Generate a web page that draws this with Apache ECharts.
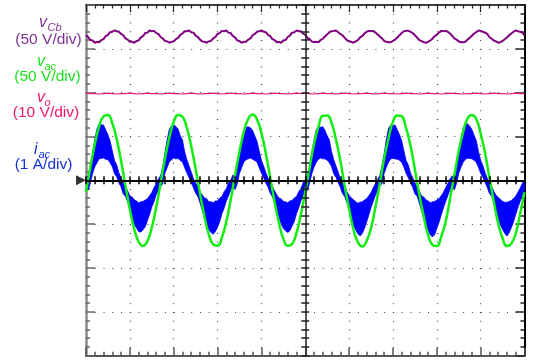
<!DOCTYPE html>
<html><head><meta charset="utf-8">
<script src="https://cdn.jsdelivr.net/npm/echarts@6/dist/echarts.min.js"></script>
<style>html,body{margin:0;padding:0;background:#fff}#c{width:534px;height:361px}</style>
</head><body><div id="c"></div>
<script>
// time base: oscilloscope 10 ms/div, centre of screen = 0 ms
const timeStartMs = -50;
const slowStepMs = 1;
const fastStepMs = 0.5;

// all trace values in screen divisions (vac 50 V/div, vo 10 V/div, vCb 50 V/div, iac 1 A/div)
const vac = [-0.26,0.30,0.82,1.23,1.46,1.49,1.30,0.94,0.44,-0.12,-0.66,-1.11,-1.40,-1.50,-1.39,-1.08,-0.62,-0.07,0.49,0.97,1.33,1.49,1.45,1.20,0.78,0.26,-0.30,-0.82,-1.23,-1.46,-1.49,-1.30,-0.94,-0.44,0.12,0.66,1.11,1.40,1.50,1.39,1.08,0.62,0.07,-0.49,-0.97,-1.33,-1.49,-1.45,-1.20,-0.78,-0.26,
0.29,0.83,1.22,1.47,1.48,1.31,0.93,0.45,-0.13,-0.65,-1.12,-1.41,-1.51,-1.38,-1.09,-0.61,-0.08,0.50,0.96,1.34,1.48,1.46,1.19,0.79,0.25,-0.31,-0.81,-1.24,-1.47,-1.50,-1.29,-0.95,-0.43,0.11,0.67,1.10,1.41,1.49,1.40,1.07,0.63,0.06,-0.48,-0.98,-1.32,-1.50,-1.44,-1.21,-0.77,-0.27];

const vo = [1.99,1.98,1.98,1.97,1.98,1.99,1.98,1.97,1.98,1.98,1.99,1.98,1.97,1.98,1.99,1.98,1.98,1.97,1.98,1.99,1.98,1.98,1.97,1.98,1.99,1.98,1.97,1.98,1.98,1.99,1.98,1.97,1.98,1.99,1.98,1.98,1.97,1.98,1.99,1.98,1.98,1.97,1.98,1.99,1.98,1.98,1.97,1.98,1.99,1.98,1.99,1.98,1.97,1.98,1.99,1.98,1.98,1.97,1.98,1.99,1.98,1.97,1.98,1.98,1.99,1.98,1.97,1.98,1.99,1.98,1.98,1.97,1.98,1.99,1.98,1.98,1.97,1.98,1.99,1.98,1.98,1.97,1.98,1.99,1.98,1.98,1.97,1.98,1.98,1.99,1.98,1.97,1.98,1.99,1.98,1.98,1.97,1.98,1.99,1.98,1.98];

const vCb = [3.31,3.27,3.20,3.19,3.14,3.16,3.15,3.20,3.22,3.29,3.32,3.38,3.39,3.42,3.40,3.39,3.34,3.31,3.24,3.21,3.16,3.16,3.14,3.18,3.19,3.26,3.29,3.36,3.37,3.42,3.40,3.41,3.36,3.34,3.27,3.24,3.18,3.17,3.14,3.16,3.17,3.22,3.25,3.32,3.35,3.40,3.40,3.42,3.38,3.37,
3.30,3.27,3.21,3.17,3.16,3.14,3.17,3.18,3.24,3.27,3.34,3.36,3.41,3.40,3.42,3.37,3.36,3.29,3.26,3.19,3.18,3.14,3.16,3.16,3.21,3.24,3.31,3.34,3.39,3.40,3.42,3.39,3.38,3.32,3.29,3.22,3.20,3.15,3.16,3.14,3.19,3.20,3.27,3.30,3.37,3.38,3.42,3.40,3.40,3.35,
3.32,3.25,3.22,3.17,3.15,3.16,3.15,3.20,3.23,3.28,3.33,3.38,3.40,3.41,3.42,3.38,3.34,3.31,3.25,3.20,3.17,3.16,3.14,3.17,3.20,3.26,3.29,3.35,3.39,3.41,3.40,3.41,3.37,3.33,3.28,3.24,3.18,3.16,3.15,3.15,3.18,3.21,3.26,3.31,3.36,3.40,3.41,3.41,3.39,3.36,
3.31,3.26,3.20,3.18,3.15,3.14,3.16,3.19,3.23,3.29,3.32,3.37,3.41,3.40,3.41,3.39,3.35,3.30,3.24,3.21,3.17,3.15,3.15,3.16,3.21,3.25,3.30,3.35,3.38,3.42,3.41,3.39,3.37,3.34,3.27,3.23,3.19,3.17,3.14,3.15,3.18,3.22,3.26,3.31,3.35,3.39,3.42,3.40,3.39,3.37,
3.31];

// iac: upper and lower edge of the switching-ripple band (0.5 ms samples)
const iacUpper = [0.06,
0.10,0.33,0.61,0.94,1.17,1.29,1.27,1.26,1.15,1.04,0.90,0.67,0.45,0.35,0.17,0.06,-0.05,-0.15,-0.24,-0.35,-0.38,-0.44,-0.47,-0.51,-0.49,-0.48,-0.45,-0.42,-0.35,-0.28,-0.17,-0.08,0.03,0.10,
0.31,0.63,0.92,1.16,1.25,1.27,1.23,1.17,1.02,0.92,0.65,0.47,0.33,0.19,0.04,-0.06,-0.13,-0.26,-0.33,-0.40,-0.42,-0.49,-0.49,-0.51,-0.47,-0.47,-0.40,-0.37,-0.26,-0.19,-0.06,0.01,0.12,
0.09,0.32,0.60,0.91,1.14,1.21,1.22,1.20,1.14,1.01,0.89,0.67,0.46,0.33,0.18,0.06,-0.06,-0.14,-0.24,-0.33,-0.40,-0.42,-0.48,-0.49,-0.51,-0.47,-0.46,-0.40,-0.37,-0.26,-0.19,-0.06,0.02,
0.11,0.31,0.63,0.92,1.15,1.22,1.21,1.22,1.14,1.02,0.92,0.65,0.47,0.33,0.19,0.04,-0.06,-0.13,-0.26,-0.34,-0.40,-0.44,-0.49,-0.52,-0.50,-0.49,-0.45,-0.42,-0.35,-0.28,-0.17,-0.08,0.02,0.11,
0.33,0.61,0.94,1.19,1.26,1.25,1.26,1.15,1.04,0.90,0.67,0.45,0.35,0.17,0.06,-0.05,-0.15,-0.24,-0.35,-0.38,-0.44,-0.47,-0.51,-0.49,-0.48,-0.45,-0.42,-0.35,-0.28,-0.17,-0.08,0.03,0.10,
0.10,0.33,0.62,0.93,1.19,1.28,1.29,1.24,1.16,1.03,0.91,0.66,0.46,0.34,0.18,0.05,-0.05,-0.14,-0.25,-0.34,-0.39,-0.43,-0.48,-0.50,-0.50,-0.48,-0.46,-0.41,-0.36,-0.27,-0.18,-0.07,0.02];

const iacLower = [-0.18,
-0.22,-0.06,0.15,0.31,0.40,0.49,0.50,0.51,0.48,0.47,0.40,0.31,0.15,0.08,-0.06,-0.15,-0.31,-0.36,-0.49,-0.67,-0.83,-1.01,-1.08,-1.17,-1.18,-1.13,-1.06,-0.92,-0.78,-0.61,-0.49,-0.33,-0.24,-0.14,
-0.08,0.17,0.29,0.42,0.47,0.51,0.49,0.50,0.45,0.42,0.29,0.17,0.06,-0.04,-0.17,-0.29,-0.37,-0.51,-0.68,-0.86,-1.02,-1.12,-1.19,-1.23,-1.17,-1.07,-0.94,-0.76,-0.63,-0.47,-0.35,-0.22,-0.15,
-0.21,-0.08,0.16,0.29,0.42,0.47,0.49,0.51,0.48,0.45,0.42,0.29,0.17,0.06,-0.06,-0.15,-0.29,-0.37,-0.50,-0.65,-0.85,-0.99,-1.10,-1.15,-1.19,-1.15,-1.04,-0.94,-0.76,-0.63,-0.47,-0.35,-0.23,
-0.23,-0.06,0.15,0.30,0.41,0.48,0.51,0.49,0.49,0.46,0.40,0.31,0.15,0.07,-0.05,-0.16,-0.30,-0.37,-0.51,-0.67,-0.86,-1.03,-1.13,-1.22,-1.27,-1.21,-1.10,-0.95,-0.79,-0.62,-0.48,-0.34,-0.24,-0.13,
-0.07,0.16,0.30,0.42,0.49,0.50,0.49,0.48,0.46,0.41,0.30,0.16,0.06,-0.05,-0.16,-0.31,-0.36,-0.51,-0.68,-0.87,-1.04,-1.14,-1.24,-1.29,-1.24,-1.10,-0.96,-0.79,-0.63,-0.49,-0.35,-0.22,-0.14,
-0.22,-0.07,0.16,0.30,0.41,0.48,0.50,0.50,0.49,0.46,0.41,0.30,0.16,0.07,-0.05,-0.16,-0.30,-0.36,-0.50,-0.66,-0.85,-1.02,-1.12,-1.21,-1.27,-1.20,-1.08,-0.95,-0.78,-0.62,-0.48,-0.34,-0.23];

const groundMarker = [[-50, 0]];

const channelNames = [
  {sym:'v', sub:'Cb', scale:'(50 V/div)', color:'#7d3394'},
  {sym:'v', sub:'ac', scale:'(50 V/div)', color:'#1ee01e'},
  {sym:'v', sub:'o',  scale:'(10 V/div)', color:'#f0186e'},
  {sym:'i', sub:'ac', scale:'(1 A/div)',  color:'#1432d8'}
];

const toPairs = (arr, step) => arr.map((v, i) => [timeStartMs + i * step, v]);

const FONT = '"Liberation Sans", Arial, sans-serif';
// label layout (pixels)
const labelLayout = [
  {symX:39, symY:23, subX:47.5, subY:28, scX:48.5, scY:40},
  {symX:37, symY:62, subX:44.5, subY:66.5, scX:47.5, scY:77},
  {symX:37, symY:98, subX:44.5, subY:102.5, scX:46, scY:113},
  {symX:34, symY:150, subX:38.5, subY:154.5, scX:43.5, scY:165}
];
const graphics = [];
channelNames.forEach((c, k) => {
  const L = labelLayout[k];
  graphics.push({type:'text', x:L.symX, y:L.symY, silent:true,
    style:{text:c.sym, fill:c.color, fontSize:16, fontStyle:'italic', fontFamily:FONT, align:'left', verticalAlign:'middle'}});
  graphics.push({type:'text', x:L.subX, y:L.subY, silent:true,
    style:{text:c.sub, fill:c.color, fontSize:11, fontStyle:'italic', fontFamily:FONT, align:'left', verticalAlign:'middle'}});
  graphics.push({type:'text', x:L.scX, y:L.scY, silent:true,
    style:{text:c.scale, fill:c.color, fontSize:15.5, fontFamily:FONT, align:'center', verticalAlign:'middle'}});
});

const dotted = [1, 7.77];
const hidden = {show:false};

const chart = echarts.init(document.getElementById('c'), null, {renderer:'canvas', devicePixelRatio:1});
chart.setOption({
  animation:false,
  backgroundColor:'#ffffff',
  grid:{left:86, top:5, width:438.5, height:350.7, containLabel:false},
  graphic:graphics,
  xAxis:[
    {type:'value', min:-50, max:50, interval:10, position:'bottom',
      axisLine:{show:true, onZero:false, lineStyle:{color:'#555', width:2}},
      axisTick:{show:true, inside:true, length:8, lineStyle:{color:'#555', width:1.5}},
      minorTick:{show:true, splitNumber:5, length:4, lineStyle:{color:'#555', width:1.5}},
      axisLabel:hidden,
      splitLine:{show:true, lineStyle:{color:'#444', width:1.2, type:dotted}}},
    {type:'value', min:-50, max:50, interval:10, position:'top',
      axisLine:{show:true, onZero:false, lineStyle:{color:'#000', width:1.5}},
      axisTick:{show:true, inside:true, length:7, lineStyle:{color:'#222', width:1.2}},
      minorTick:{show:true, splitNumber:5, length:3.5, lineStyle:{color:'#222', width:1.2}},
      axisLabel:hidden, splitLine:hidden},
    {type:'value', min:-50, max:50, interval:10, position:'bottom', z:10,
      axisLine:{show:true, onZero:true, onZeroAxisIndex:0, lineStyle:{color:'#000', width:2}},
      axisTick:{show:true, inside:true, length:4, lineStyle:{color:'#000', width:1.5}},
      minorTick:{show:true, splitNumber:5, length:4, lineStyle:{color:'#000', width:1.5}},
      axisLabel:hidden, splitLine:hidden},
    {type:'value', min:-50, max:50, interval:10, position:'top', z:10,
      axisLine:{show:false, onZero:true, onZeroAxisIndex:0},
      axisTick:{show:true, inside:true, length:4, lineStyle:{color:'#000', width:1.5}},
      minorTick:{show:true, splitNumber:5, length:4, lineStyle:{color:'#000', width:1.5}},
      axisLabel:hidden, splitLine:hidden}
  ],
  yAxis:[
    {type:'value', min:-4, max:4, interval:1, position:'left',
      axisLine:{show:true, onZero:false, lineStyle:{color:'#8a8a8a', width:2.5}},
      axisTick:{show:true, inside:true, length:9, lineStyle:{color:'#666', width:1.5}},
      minorTick:{show:true, splitNumber:5, length:4, lineStyle:{color:'#666', width:1.5}},
      axisLabel:hidden,
      splitLine:{show:true, lineStyle:{color:'#444', width:1.2, type:dotted}}},
    {type:'value', min:-4, max:4, interval:1, position:'right',
      axisLine:{show:true, onZero:false, lineStyle:{color:'#000', width:2}},
      axisTick:{show:true, inside:true, length:9, lineStyle:{color:'#222', width:1.5}},
      minorTick:{show:true, splitNumber:5, length:4, lineStyle:{color:'#222', width:1.5}},
      axisLabel:hidden, splitLine:hidden},
    {type:'value', min:-4, max:4, interval:1, position:'left', z:10,
      axisLine:{show:true, onZero:true, onZeroAxisIndex:0, lineStyle:{color:'#222', width:1.5}},
      axisTick:{show:true, inside:true, length:4, lineStyle:{color:'#222', width:1.5}},
      minorTick:{show:true, splitNumber:5, length:4, lineStyle:{color:'#222', width:1.5}},
      axisLabel:hidden, splitLine:hidden},
    {type:'value', min:-4, max:4, interval:1, position:'right', z:10,
      axisLine:{show:false, onZero:true, onZeroAxisIndex:0},
      axisTick:{show:true, inside:true, length:4, lineStyle:{color:'#222', width:1.5}},
      minorTick:{show:true, splitNumber:5, length:4, lineStyle:{color:'#222', width:1.5}},
      axisLabel:hidden, splitLine:hidden}
  ],
  series:[
    {type:'line', name:'vCb', xAxisIndex:0, yAxisIndex:0, data:toPairs(vCb, fastStepMs),
      showSymbol:false, symbol:'none', z:2, lineStyle:{color:'#800080', width:2}},
    {type:'line', name:'vo', xAxisIndex:0, yAxisIndex:0, data:toPairs(vo, slowStepMs),
      showSymbol:false, symbol:'none', z:2, lineStyle:{color:'#e8197d', width:1.2}},
    {type:'custom', name:'iac', xAxisIndex:0, yAxisIndex:0, z:3, clip:true,
      data:[[0, 0]],
      renderItem:function(params, api){
        const pts = [];
        for (let i = 0; i < iacUpper.length; i++) pts.push(api.coord([timeStartMs + i * fastStepMs, iacUpper[i]]));
        for (let i = iacLower.length - 1; i >= 0; i--) pts.push(api.coord([timeStartMs + i * fastStepMs, iacLower[i]]));
        return {type:'polygon', shape:{points:pts}, style:{fill:'#0000ff', stroke:'#0000ff', lineWidth:0.8}};
      }},
    {type:'line', name:'vac', xAxisIndex:0, yAxisIndex:0, data:toPairs(vac, slowStepMs),
      showSymbol:false, symbol:'none', smooth:true, z:4, lineStyle:{color:'#12ee12', width:2.5}},
    {type:'scatter', name:'ground', xAxisIndex:0, yAxisIndex:0, data:groundMarker, clip:false, z:12,
      symbol:'path://M0,0 L10,5 L0,10 Z', symbolSize:[10,10], symbolOffset:[-5,0],
      itemStyle:{color:'#000'}}
  ]
});
</script>
</body></html>
